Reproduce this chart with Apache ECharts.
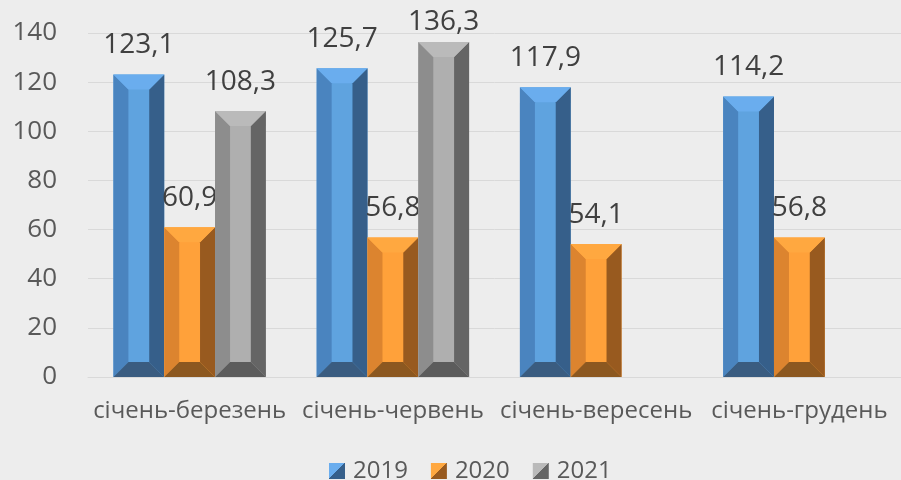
<!DOCTYPE html>
<html><head><meta charset="utf-8">
<script src="https://cdn.jsdelivr.net/npm/echarts@6/dist/echarts.min.js"></script>
<style>html,body{margin:0;padding:0;background:#ededed}#c{width:901px;height:480px}</style>
</head><body><div id="c"></div>
<script>
const categories = ['січень-березень', 'січень-червень', 'січень-вересень', 'січень-грудень'];
const seriesNames = ['2019', '2020', '2021'];
const values2019 = [123.1, 125.7, 117.9, 114.2];
const values2020 = [60.9, 56.8, 54.1, 56.8];
const values2021 = [108.3, 136.3, null, null];
const yTicks = [0, 20, 40, 60, 80, 100, 120, 140];

const FONT = '"Open Sans", sans-serif';
const palettes = [
  {front:'#5fa3df', left:'#4a84bf', right:'#365f8a', top:'#6aadee', bottom:'#3a5c80'},
  {front:'#ffa13a', left:'#dc842f', right:'#985a1f', top:'#ffa840', bottom:'#8c5820'},
  {front:'#afafaf', left:'#8d8d8d', right:'#656565', top:'#bababa', bottom:'#5c5c5c'}
];
const allValues = [values2019, values2020, values2021];

function fmt(v){ return String(v).replace('.', ','); }

function makeRender(idx){
  const p = palettes[idx];
  return function(params, api){
    const v = api.value(1);
    if (v == null || isNaN(v)) return null;
    const bw = api.size([1, 0])[0];
    const barW = bw * 0.25;
    const top = api.coord([api.value(0), v]);
    const base = api.coord([api.value(0), 0]);
    const x0 = top[0] - 1.5 * barW + idx * barW;
    const x1 = x0 + barW;
    const t = top[1], b = base[1];
    const bv = Math.min(15, (b - t) / 2, barW / 2 - 2);
    const poly = (pts, fill) => ({type:'polygon', shape:{points:pts}, style:{fill:fill}});
    const ly = Math.max(22, t - 29);
    return {type:'group', children:[
      {type:'rect', shape:{x:x0, y:t, width:barW, height:b - t}, style:{fill:p.front}},
      poly([[x0,t],[x0+bv,t+bv],[x0+bv,b-bv],[x0,b]], p.left),
      poly([[x1,t],[x1-bv,t+bv],[x1-bv,b-bv],[x1,b]], p.right),
      poly([[x0,t],[x1,t],[x1-bv,t+bv],[x0+bv,t+bv]], p.top),
      poly([[x0,b],[x1,b],[x1-bv,b-bv],[x0+bv,b-bv]], p.bottom),
      {type:'text', style:{text:fmt(v), x:(x0+x1)/2, y:ly, align:'center', verticalAlign:'middle', font:'28px ' + FONT, fill:'#404040'}}
    ]};
  };
}

function legendColor(p){
  return {type:'linear', x:0, y:0, x2:1, y2:1, colorStops:[
    {offset:0, color:p.top},{offset:0.5, color:p.top},{offset:0.5, color:p.right},{offset:1, color:p.right}]};
}

const chart = echarts.init(document.getElementById('c'), null, {renderer:'canvas'});
chart.setOption({
  backgroundColor:'#ededed',
  animation:false,
  textStyle:{fontFamily:FONT},
  grid:{left:88, right:0, top:33, bottom:103, containLabel:false},
  legend:{
    left:329, top:459, itemWidth:16, itemHeight:16, itemGap:23, padding:0,
    textStyle:{fontSize:24, color:'#595959', fontFamily:FONT, padding:[0,0,0,3]},
    data: seriesNames.map((n,i)=>({name:n, icon:'rect', itemStyle:{color:legendColor(palettes[i])}}))
  },
  xAxis:{
    type:'category', data:categories,
    axisLine:{show:true, lineStyle:{color:'#d9d9d9', width:1}},
    axisTick:{show:false},
    axisLabel:{fontSize:24, color:'#595959', margin:22, interval:0, fontFamily:FONT}
  },
  yAxis:{
    type:'value', min:yTicks[0], max:yTicks[yTicks.length-1], interval:20,
    axisLine:{show:false}, axisTick:{show:false},
    axisLabel:{fontSize:26, color:'#595959', margin:31, fontFamily:FONT},
    splitLine:{lineStyle:{color:'#d9d9d9', width:1}}
  },
  series: seriesNames.map((n,i)=>({
    name:n, type:'custom', renderItem:makeRender(i),
    itemStyle:{color:legendColor(palettes[i])},
    encode:{x:0, y:1},
    data: allValues[i].map((v,k)=>[k, v == null ? '-' : v])
  }))
});
</script>
</body></html>
